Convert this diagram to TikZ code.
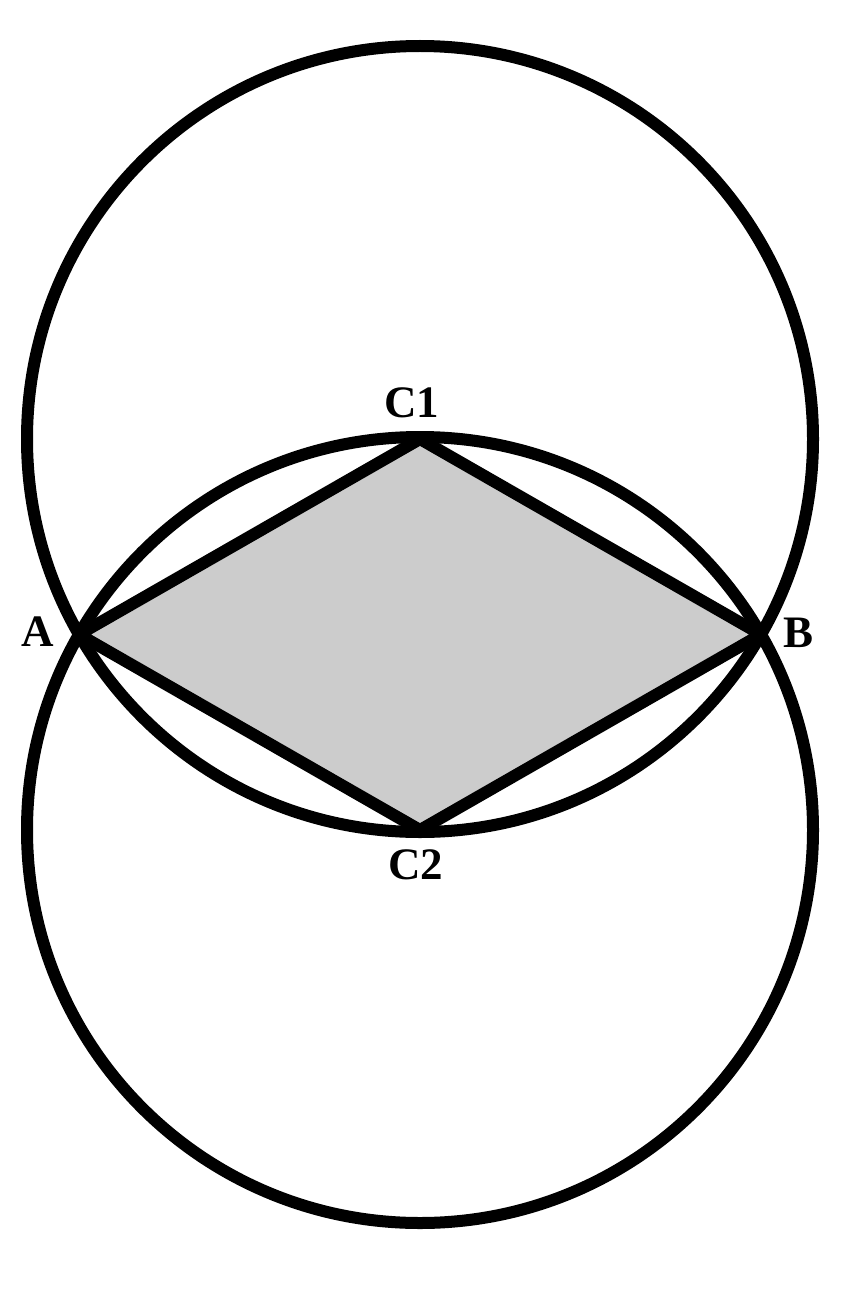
\documentclass[tikz,border=0pt]{standalone}
\usepackage{fontspec}
\setmainfont{Liberation Serif}
\definecolor{rhombfill}{HTML}{CCCCCC}
\begin{document}
\begin{tikzpicture}[x=1pt,y=-1pt,
  curve/.style={draw=black, line width=12pt},
  lbl/.style={font=\fontsize{45}{50}\selectfont\bfseries, inner sep=0pt, anchor=center}]
\fill[white] (0,0) rectangle (840,1292);
\useasboundingbox (0,0) rectangle (840,1292);
\coordinate (C1) at (420,439);
\coordinate (C2) at (420,830);
\coordinate (A) at (79,634.5);
\coordinate (B) at (761,634.5);
\fill[rhombfill] (A) -- (C1) -- (B) -- (C2) -- cycle;
\draw[curve] (C1) circle[radius=393pt];
\draw[curve] (C2) circle[radius=393pt];
\draw[curve, line join=round] (A) -- (C1) -- (B) -- (C2) -- cycle;
\node[lbl] (lC1) at (412,403) {C1};
\node[lbl] (lC2) at (416,865) {C2};
\node[lbl] (lA) at (38,632) {A};
\node[lbl] (lB) at (798,633) {B};
\end{tikzpicture}
\end{document}
